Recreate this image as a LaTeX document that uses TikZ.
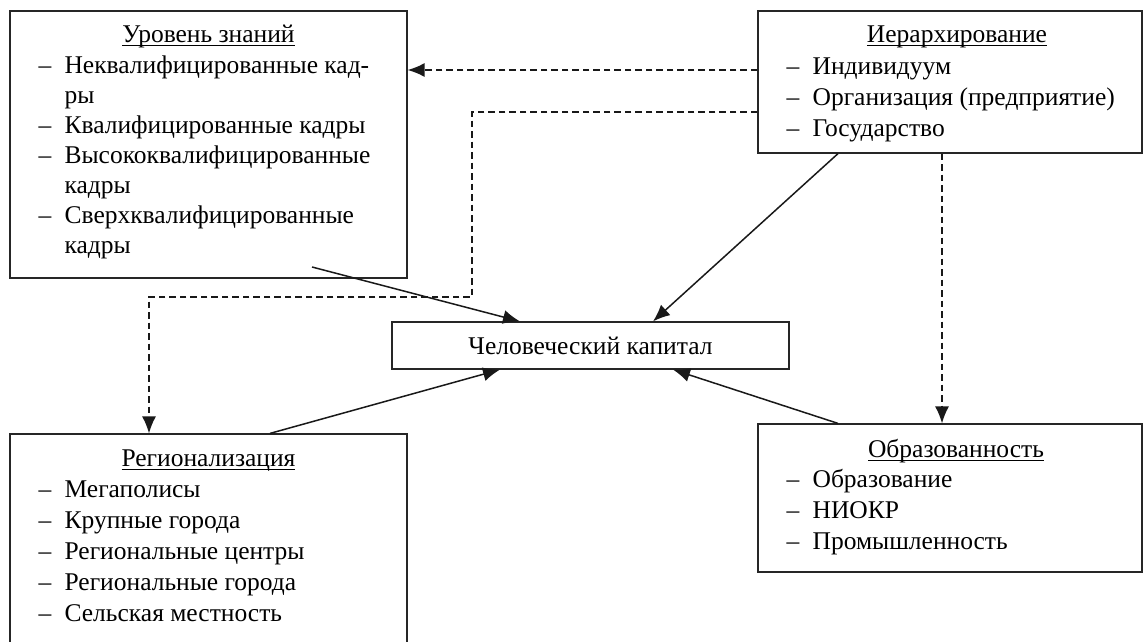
\documentclass[tikz,border=0pt]{standalone}
\usepackage{fontspec}
\setmainfont{Liberation Serif}
\usetikzlibrary{arrows.meta, positioning}
\newcommand{\uln}[1]{\setbox0\hbox{#1}\rlap{\rule[-3.5pt]{\wd0}{1pt}}\box0}
\newcommand{\itm}[1]{\makebox[26pt][l]{–}#1}
\newcommand{\contl}[1]{\hspace*{26pt}#1}

\begin{document}
\begin{tikzpicture}[x=1pt, y=-1pt,
    box/.style={rectangle, draw=black!85, line width=1.2pt, inner sep=0pt},
    ttl/.style={anchor=base, inner sep=0pt, font=\fontsize{25.5}{31}\selectfont},
    lst/.style={anchor=base west, inner sep=0pt, font=\fontsize{25.5}{31}\selectfont},
    arr/.style={-{Latex[length=17pt, width=14pt]}, line width=1.5pt, black!90},
    dasharr/.style={arr, dash pattern=on 6.5pt off 4pt}]
    \useasboundingbox (0,0) rectangle (1143,642);
    \node[box, minimum width=397pt, minimum height=267pt] (uz) at (208.5,144.5) {};
    \node[box, minimum width=384pt, minimum height=142pt] (ier) at (950,82) {};
    \node[box, minimum width=397pt, minimum height=47pt, font=\fontsize{25.5}{31}\selectfont] (chk) at (590.5,345.5) {Человеческий капитал};
    \node[box, minimum width=397pt, minimum height=226pt] (reg) at (208.5,547) {};
    \node[box, minimum width=384pt, minimum height=148pt] (obr) at (950,498) {};
    \node[ttl] (uzt) at ([yshift=-32pt]uz.north) {\uln{Уровень знаний}};
    \node[ttl] (iert) at ([xshift=7pt, yshift=-32pt]ier.north) {\uln{Иерархирование}};
    \node[ttl] (regt) at ([yshift=-33pt]reg.north) {\uln{Регионализация}};
    \node[ttl] (obrt) at ([xshift=6pt, yshift=-34pt]obr.north) {\uln{Образованность}};
    \node[lst, font=\fontsize{25.5}{30}\selectfont] (uzl) at ([xshift=29pt, yshift=-63pt]uz.north west) {\begin{tabular}[t]{@{}l@{}}
      \itm{Неквалифицированные кад-}\\ \contl{ры}\\ \itm{Квалифицированные кадры}\\
      \itm{Высококвалифицированные}\\ \contl{кадры}\\ \itm{Сверхквалифицированные}\\ \contl{кадры}
    \end{tabular}};
    \node[lst] (ierl) at ([xshift=29pt, yshift=-64pt]ier.north west) {\begin{tabular}[t]{@{}l@{}}
      \itm{Индивидуум}\\ \itm{Организация (предприятие)}\\ \itm{Государство}
    \end{tabular}};
    \node[lst] (regl) at ([xshift=29pt, yshift=-64pt]reg.north west) {\begin{tabular}[t]{@{}l@{}}
      \itm{Мегаполисы}\\ \itm{Крупные города}\\ \itm{Региональные центры}\\
      \itm{Региональные города}\\ \itm{Сельская местность}
    \end{tabular}};
    \node[lst] (obrl) at ([xshift=29pt, yshift=-64pt]obr.north west) {\begin{tabular}[t]{@{}l@{}}
      \itm{Образование}\\ \itm{НИОКР}\\ \itm{Промышленность}
    \end{tabular}};
    \coordinate (d1) at ([yshift=12pt]ier.west);
    \coordinate (d2) at ([yshift=-30pt]ier.west);
    \coordinate (k1) at (472,297);
    \coordinate (k2) at (149,297);
    \coordinate (k3) at (942,0);
    \coordinate (s1) at (312,267);
    \draw[dasharr] (d1) -- (d1 -| uz.east);
    \draw[dasharr] (d2) -| (k1) -- (k2) -- (k2 |- reg.north);
    \draw[dasharr] (k3 |- ier.south) -- (k3 |- obr.north);
    \draw[arr] (s1) -- ([xshift=-70.5pt]chk.north);
    \draw[arr] ([xshift=-112pt]ier.south) -- ([xshift=62.5pt]chk.north);
    \draw[arr] ([xshift=61.5pt]reg.north) -- ([xshift=-90.5pt]chk.south);
    \draw[arr] ([xshift=-112pt]obr.north) -- ([xshift=82.5pt]chk.south);
  \end{tikzpicture}
\end{document}
